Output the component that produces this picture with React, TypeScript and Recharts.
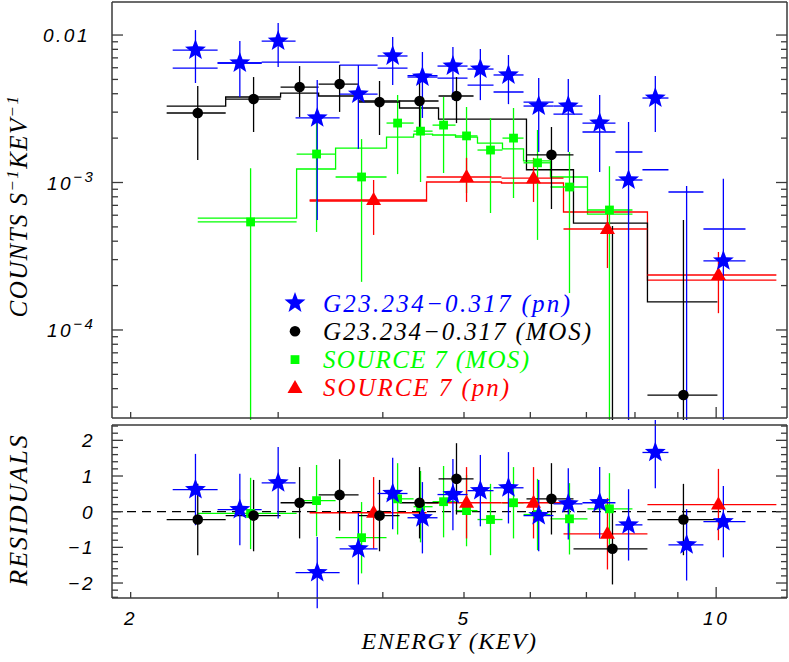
import React from "react";
import {
  ComposedChart,
  Scatter,
  Line,
  XAxis,
  YAxis,
  ErrorBar,
  ReferenceLine,
  Legend,
  Label,
} from "recharts";

// ---- spectra: energy bins in keV, rates in counts s^-1 keV^-1 ----

// G23.234-0.317, pn
const pnName = "G23.234−0.317 (pn)";
const pnE = [2.39, 2.70, 3.00, 3.34, 3.74, 4.11, 4.46, 4.85, 5.23, 5.65, 6.14, 6.66, 7.26, 7.86, 8.46, 9.22, 10.2];
const pnLo = [2.245, 2.54, 2.867, 3.147, 3.552, 3.943, 4.281, 4.649, 5.049, 5.423, 5.889, 6.394, 6.925, 7.582, 8.166, 8.771, 9.656];
const pnHi = [2.54, 2.867, 3.147, 3.552, 3.943, 4.281, 4.649, 5.049, 5.423, 5.889, 6.394, 6.925, 7.582, 8.166, 8.771, 9.656, 10.84];
const pnRate = [7.91e-3, 6.46e-3, 9.1e-3, 2.74e-3, 3.98e-3, 7.21e-3, 5.19e-3, 6.16e-3, 5.88e-3, 5.36e-3, 3.3e-3, 3.3e-3, 2.53e-3, 1.04e-3, 3.74e-3, 1e-5, 2.94e-4];
const pnRateLo = [4.73e-3, 3.8e-3, 6.07e-3, 5.57e-4, 1.69e-3, 4.58e-3, 2.74e-3, 3.62e-3, 3.62e-3, 3.4e-3, 1.61e-3, 1.61e-3, 1.18e-3, 1e-6, 2.2e-3, 1e-6, 1e-6];
const pnRateHi = [1.081e-2, 9.1e-3, 1.206e-2, 4.95e-3, 6.26e-3, 9.69e-3, 7.67e-3, 8.29e-3, 8.04e-3, 7.32e-3, 5.11e-3, 5.03e-3, 3.92e-3, 2.57e-3, 5.27e-3, 9.47e-4, 1.06e-3];
const pnModel = [5.97e-3, 6.46e-3, 6.56e-3, 6.56e-3, 6.26e-3, 5.97e-3, 5.3e-3, 5.11e-3, 4.58e-3, 4.11e-3, 3.51e-3, 2.91e-3, 2.2e-3, 1.61e-3, 1.22e-3, 8.62e-4, 4.84e-4];
const pnResid = [0.62, 0.06, 0.81, -1.71, -1.04, 0.51, -0.17, 0.48, 0.59, 0.67, -0.11, 0.22, 0.25, -0.37, 1.66, -0.93, -0.28];

// G23.234-0.317, MOS
const mosName = "G23.234−0.317 (MOS)";
const mosE = [2.405, 2.804, 3.182, 3.552, 3.964, 4.425, 4.898, 6.359, 7.52, 9.14];
const mosLo = [2.208, 2.597, 3.02, 3.353, 3.742, 4.188, 4.662, 5.937, 6.756, 8.279];
const mosHi = [2.597, 3.02, 3.353, 3.742, 4.188, 4.662, 5.133, 6.756, 8.279, 10.035];
const mosRate = [2.96e-3, 3.68e-3, 4.44e-3, 4.65e-3, 3.51e-3, 3.57e-3, 3.86e-3, 1.54e-3, 1e-5, 3.62e-5];
const mosRateLo = [1.42e-3, 2.2e-3, 2.78e-3, 3.01e-3, 2.1e-3, 2.27e-3, 2.53e-3, 6.61e-4, 1e-6, 1e-6];
const mosRateHi = [4.51e-3, 5.19e-3, 6.16e-3, 6.26e-3, 4.88e-3, 4.73e-3, 5.19e-3, 2.38e-3, 5.07e-4, 5.57e-4];
const mosModel = [3.3e-3, 3.8e-3, 4.04e-3, 3.86e-3, 3.57e-3, 3.2e-3, 2.69e-3, 1.22e-3, 5.31e-4, 1.55e-4];
const mosResid = [-0.22, -0.11, 0.25, 0.47, -0.11, 0.25, 0.92, 0.36, -1.04, -0.22];

// Source 7, MOS
const s7mName = "SOURCE 7 (MOS)";
const s7mE = [2.781, 3.334, 3.773, 4.166, 4.437, 4.727, 5.035, 5.378, 5.729, 6.12, 6.682, 7.458];
const s7mLo = [2.405, 3.156, 3.513, 4.041, 4.353, 4.586, 4.885, 5.189, 5.558, 5.889, 6.342, 7.021];
const s7mHi = [3.156, 3.513, 4.041, 4.353, 4.586, 4.885, 5.189, 5.558, 5.889, 6.342, 7.021, 7.945];
const s7mRate = [5.4e-4, 1.56e-3, 1.09e-3, 2.53e-3, 2.23e-3, 2.45e-3, 2.07e-3, 1.66e-3, 2.0e-3, 1.36e-3, 9.32e-4, 6.51e-4];
const s7mRateLo = [1e-6, 4.62e-4, 2.12e-4, 1.14e-3, 1.008e-3, 1.16e-3, 8.49e-4, 6.21e-4, 7.85e-4, 4.08e-4, 1.78e-4, 1e-6];
const s7mRateHi = [1.25e-3, 2.61e-3, 1.97e-3, 3.92e-3, 3.5e-3, 3.8e-3, 3.25e-3, 2.74e-3, 3.2e-3, 2.27e-3, 1.61e-3, 1.29e-3];
const s7mModel = [5.74e-4, 1.235e-3, 1.71e-3, 2.03e-3, 2.13e-3, 2.1e-3, 2.03e-3, 1.85e-3, 1.69e-3, 1.4e-3, 1.09e-3, 6.11e-4];
const s7mResid = [-0.05, 0.31, -0.73, 0.36, 0.14, 0.28, 0.03, -0.22, 0.25, -0.08, -0.2, 0.08];

// Source 7, pn
const s7pName = "SOURCE 7 (pn)";
const s7pE = [3.9, 5.035, 6.053, 7.417, 10.063];
const s7pLo = [3.271, 4.511, 5.543, 6.573, 8.279];
const s7pHi = [4.511, 5.543, 6.573, 8.279, 11.8];
const s7pRate = [7.61e-4, 1.09e-3, 1.07e-3, 4.84e-4, 2.36e-4];
const s7pRateLo = [4.41e-4, 7.38e-4, 7.38e-4, 2.63e-4, 1.3e-4];
const s7pRateHi = [1.04e-3, 1.47e-3, 1.47e-3, 6.21e-4, 3.38e-4];
const s7pModel = [7.49e-4, 1.008e-3, 9.92e-4, 6.31e-4, 2.18e-4];
const s7pResid = [-0.03, 0.25, 0.25, -0.62, 0.2];

// ---- axes ----
const eDomain = [1.9, 12.15];
const eTicks = [2, 3, 4, 5, 6, 7, 8, 9, 10];
const eMajor = [10];
const eLabels = [2, 5, 10];

const rateDomain = [2.53e-5, 0.01675];
const rateTicks = [
  3e-5, 4e-5, 5e-5, 6e-5, 7e-5, 8e-5, 9e-5,
  1e-4, 2e-4, 3e-4, 4e-4, 5e-4, 6e-4, 7e-4, 8e-4, 9e-4,
  1e-3, 2e-3, 3e-3, 4e-3, 5e-3, 6e-3, 7e-3, 8e-3, 9e-3,
  1e-2,
];
const rateMajor = [1e-4, 1e-3, 1e-2];
const rateLabels = [
  { v: 1e-2, text: "0.01", sup: "" },
  { v: 1e-3, text: "10", sup: "−3" },
  { v: 1e-4, text: "10", sup: "−4" },
];

const residDomain = [-2.42, 2.43];
const residTicks = [
  -2.4, -2.2, -2, -1.8, -1.6, -1.4, -1.2, -1, -0.8, -0.6, -0.4, -0.2, 0,
  0.2, 0.4, 0.6, 0.8, 1, 1.2, 1.4, 1.6, 1.8, 2, 2.2, 2.4,
];
const residMajor = [-2, -1, 0, 1, 2];
const residLabels = [2, 1, 0, -1, -2];

const FRAME = "#3a3a3a";
const NUM_FONT = "'Liberation Sans', Arial, sans-serif";
const TXT_FONT = "'Liberation Serif', 'Times New Roman', serif";

type Kind = "star" | "dot" | "square" | "tri";

// joined: model drawn as a connected histogram; otherwise separate bin segments
const series = [
  { name: pnName, color: "#0000ff", kind: "star" as Kind, joined: false, legendW: 247, E: pnE, lo: pnLo, hi: pnHi, rate: pnRate, rateLo: pnRateLo, rateHi: pnRateHi, model: pnModel, resid: pnResid },
  { name: mosName, color: "#000000", kind: "dot" as Kind, joined: true, legendW: 268, E: mosE, lo: mosLo, hi: mosHi, rate: mosRate, rateLo: mosRateLo, rateHi: mosRateHi, model: mosModel, resid: mosResid },
  { name: s7mName, color: "#00ff00", kind: "square" as Kind, joined: true, legendW: 206, E: s7mE, lo: s7mLo, hi: s7mHi, rate: s7mRate, rateLo: s7mRateLo, rateHi: s7mRateHi, model: s7mModel, resid: s7mResid },
  { name: s7pName, color: "#ff0000", kind: "tri" as Kind, joined: true, legendW: 186, E: s7pE, lo: s7pLo, hi: s7pHi, rate: s7pRate, rateLo: s7pRateLo, rateHi: s7pRateHi, model: s7pModel, resid: s7pResid },
];
type Series = (typeof series)[number];
// drawing order, blue on top
const drawOrder = [series[2], series[3], series[1], series[0]];

const ratePoints = (s: Series) =>
  s.E.map((e, i) => ({
    e,
    v: s.rate[i],
    ex: [e - s.lo[i], s.hi[i] - e],
    ey: [s.rate[i] - s.rateLo[i], s.rateHi[i] - s.rate[i]],
  }));

const modelSteps = (s: Series) => {
  if (!s.joined) {
    const segs: { e: number; m: number | null }[] = [];
    s.lo.forEach((l, i) => {
      segs.push({ e: l, m: s.model[i] }, { e: s.hi[i], m: s.model[i] }, { e: s.hi[i], m: null });
    });
    return segs;
  }
  const pts: { e: number; m: number | null }[] = s.lo.map((l, i) => ({ e: l, m: s.model[i] }));
  pts.push({ e: s.hi[s.hi.length - 1], m: s.model[s.model.length - 1] });
  return pts;
};

const residPoints = (s: Series) =>
  s.E.map((e, i) => ({ e, r: s.resid[i], ex: [e - s.lo[i], s.hi[i] - e], ey: 1 }));

const near = (a: number, b: number) => Math.abs(a - b) <= Math.abs(b) * 1e-6 + 1e-9;

// ---- markers ----
function starPoints(cx: number, cy: number, r: number) {
  const pts: string[] = [];
  for (let k = 0; k < 10; k++) {
    const a = (Math.PI / 5) * k - Math.PI / 2;
    const rr = k % 2 === 0 ? r : r * 0.42;
    pts.push(`${cx + rr * Math.cos(a)},${cy + rr * Math.sin(a)}`);
  }
  return pts.join(" ");
}

function Marker({ kind, cx, cy, color }: { kind: Kind; cx: number; cy: number; color: string }) {
  if (!Number.isFinite(cx) || !Number.isFinite(cy)) return <g />;
  if (kind === "star") return <polygon points={starPoints(cx, cy, 11)} fill={color} />;
  if (kind === "dot") return <circle cx={cx} cy={cy} r={5.3} fill={color} />;
  if (kind === "square") return <rect x={cx - 4.4} y={cy - 4.4} width={8.8} height={8.8} fill={color} />;
  return <polygon points={`${cx},${cy - 8} ${cx + 7.5},${cy + 5} ${cx - 7.5},${cy + 5}`} fill={color} />;
}

// ---- inward tick marks on the frame ----
const tickMark =
  (side: "left" | "right" | "top" | "bottom", major: number[], label?: (p: any) => React.ReactNode) =>
  (p: any) => {
    const v = p.payload.value;
    const len = major.some((m) => near(v, m)) ? 11 : 6;
    const dx = side === "left" ? len : side === "right" ? -len : 0;
    const dy = side === "top" ? len : side === "bottom" ? -len : 0;
    return (
      <g>
        <line x1={p.x} y1={p.y} x2={p.x + dx} y2={p.y + dy} stroke={FRAME} strokeWidth={1.3} />
        {label ? label(p) : null}
      </g>
    );
  };

const numStyle = { fontFamily: NUM_FONT, fontStyle: "italic" as const, fontSize: 19, letterSpacing: 2.5 };
const titleStyle = { fontFamily: TXT_FONT, fontStyle: "italic" as const, fontSize: 25, letterSpacing: 1.4 };

const rateLabel = (p: any) => {
  const l = rateLabels.find((r) => near(p.payload.value, r.v));
  if (!l) return null;
  if (!l.sup)
    return (
      <text x={p.x - 22} y={p.y + 7} textAnchor="end" style={numStyle} fill="#000">
        {l.text}
      </text>
    );
  return (
    <text x={p.x - 65} y={p.y + 7} textAnchor="start" style={numStyle} fill="#000">
      {l.text}
      <tspan dy={-8} fontSize={15}>{l.sup}</tspan>
    </text>
  );
};

const residLabel = (p: any) => {
  const l = residLabels.find((r) => near(p.payload.value, r));
  if (l === undefined) return null;
  return (
    <text x={p.x - 17} y={p.y + 7} textAnchor="end" style={numStyle} fill="#000">
      {l < 0 ? `−${-l}` : `${l}`}
    </text>
  );
};

const energyLabel = (p: any) => {
  if (!eLabels.some((v) => near(p.payload.value, v))) return null;
  return (
    <text x={p.x} y={p.y + 27} textAnchor="middle" style={numStyle} fill="#000">
      {p.payload.value}
    </text>
  );
};

const CountsTitle = (p: any) => {
  const vb = p.viewBox ?? { x: 0, y: 2, width: 112, height: 416 };
  const x = vb.x + 27;
  const y = vb.y + vb.height / 2 - 4;
  return (
    <text transform={`rotate(-90 ${x} ${y})`} x={x} y={y} textAnchor="middle" style={titleStyle} fill="#000">
      COUNTS S<tspan dy={-9} fontSize={17}>−1</tspan>
      <tspan dy={9}>KEV</tspan>
      <tspan dy={-9} fontSize={17}>−1</tspan>
    </text>
  );
};

const ResidTitle = (p: any) => {
  const vb = p.viewBox ?? { x: 0, y: 5, width: 112, height: 173 };
  const x = vb.x + 27;
  const y = vb.y + vb.height / 2 - 2;
  return (
    <text transform={`rotate(-90 ${x} ${y})`} x={x} y={y} textAnchor="middle" style={{ ...titleStyle, fontSize: 26, letterSpacing: 2 }} fill="#000">
      RESIDUALS
    </text>
  );
};

const EnergyTitle = (p: any) => {
  const vb = p.viewBox ?? { x: 112, y: 178, width: 675, height: 63 };
  return (
    <text x={vb.x + vb.width / 2} y={vb.y + 51} textAnchor="middle" style={{ ...titleStyle, fontSize: 24, letterSpacing: 1.5 }} fill="#000">
      ENERGY (KEV)
    </text>
  );
};

const legendOrder = series.map((s) => s.name);
const ROW = 28.3;

const renderLegend = (props: any) => {
  const payload = props.payload && props.payload.length ? props.payload : series.map((s) => ({ value: s.name }));
  const items = [...payload]
    .filter((it: any) => legendOrder.includes(it.value))
    .sort((a: any, b: any) => legendOrder.indexOf(a.value) - legendOrder.indexOf(b.value));
  return (
    <svg width={320} height={ROW * items.length + 4} style={{ display: "block", overflow: "visible" }}>
      {items.map((it: any, i: number) => {
        const s = series[legendOrder.indexOf(it.value)];
        const cy = 14 + i * ROW;
        return (
          <g key={s.name}>
            <Marker kind={s.kind} cx={12} cy={cy} color={s.color} />
            <text
              x={40}
              y={cy + 8.5}
              fill={s.color}
              textLength={s.legendW}
              lengthAdjust="spacing"
              style={{ fontFamily: TXT_FONT, fontStyle: "italic", fontSize: 25 }}
            >
              {it.value}
            </text>
          </g>
        );
      })}
    </svg>
  );
};

const axisLine = { stroke: FRAME, strokeWidth: 1.5 };

export default function App() {
  return (
    <div style={{ position: "relative", width: 789, height: 662, background: "#fff" }}>
      <style>{"body{margin:0}"}</style>

      {/* spectrum panel */}
      <div style={{ position: "absolute", left: 0, top: 0 }}>
        <ComposedChart width={789} height={420} margin={{ top: 1, right: 1, bottom: 1, left: 0 }}>
          <XAxis
            dataKey="e"
            type="number"
            scale="log"
            domain={eDomain}
            allowDataOverflow
            ticks={eTicks}
            interval={0}
            height={1}
            tickSize={0}
            tickMargin={0}
            tickLine={false}
            axisLine={axisLine}
            tick={tickMark("bottom", eMajor)}
          />
          <XAxis
            xAxisId="t"
            orientation="top"
            type="number"
            scale="log"
            domain={eDomain}
            allowDataOverflow
            ticks={eTicks}
            interval={0}
            height={1}
            tickSize={0}
            tickMargin={0}
            tickLine={false}
            axisLine={axisLine}
            tick={tickMark("top", eMajor)}
          />
          <YAxis
            dataKey="v"
            type="number"
            scale="log"
            domain={rateDomain}
            allowDataOverflow
            ticks={rateTicks}
            interval={0}
            width={112}
            tickSize={0}
            tickMargin={0}
            tickLine={false}
            axisLine={axisLine}
            tick={tickMark("left", rateMajor, rateLabel)}
          >
            <Label content={CountsTitle} />
          </YAxis>
          <YAxis
            yAxisId="r"
            orientation="right"
            type="number"
            scale="log"
            domain={rateDomain}
            allowDataOverflow
            ticks={rateTicks}
            interval={0}
            width={1}
            tickSize={0}
            tickMargin={0}
            tickLine={false}
            axisLine={axisLine}
            tick={tickMark("right", rateMajor)}
          />

          {drawOrder.map((s) => (
            <Line
              key={`m-${s.name}`}
              data={modelSteps(s)}
              dataKey="m"
              type={s.joined ? "stepAfter" : "linear"}
              stroke={s.color}
              strokeWidth={1.3}
              dot={false}
              activeDot={false}
              connectNulls={false}
              legendType="none"
              isAnimationActive={false}
            />
          ))}
          {drawOrder.map((s) => (
            <Scatter
              key={`d-${s.name}`}
              name={s.name}
              data={ratePoints(s)}
              fill={s.color}
              isAnimationActive={false}
              shape={(p: any) => <Marker kind={s.kind} cx={p.cx} cy={p.cy} color={s.color} />}
            >
              <ErrorBar dataKey="ex" direction="x" width={0} stroke={s.color} strokeWidth={1.3} />
              <ErrorBar dataKey="ey" direction="y" width={0} stroke={s.color} strokeWidth={1.3} />
            </Scatter>
          ))}
          <Legend
            layout="vertical"
            align="center"
            verticalAlign="middle"
            wrapperStyle={{ left: 283, top: 289, width: 330 }}
            content={renderLegend}
          />
        </ComposedChart>
      </div>

      {/* residual panel */}
      <div style={{ position: "absolute", left: 0, top: 420 }}>
        <ComposedChart width={789} height={242} margin={{ top: 4, right: 1, bottom: 1, left: 0 }}>
          <XAxis
            dataKey="e"
            type="number"
            scale="log"
            domain={eDomain}
            allowDataOverflow
            ticks={eTicks}
            interval={0}
            height={63}
            tickSize={0}
            tickMargin={0}
            tickLine={false}
            axisLine={axisLine}
            tick={tickMark("bottom", eMajor, energyLabel)}
          >
            <Label content={EnergyTitle} />
          </XAxis>
          <XAxis
            xAxisId="t"
            orientation="top"
            type="number"
            scale="log"
            domain={eDomain}
            allowDataOverflow
            ticks={eTicks}
            interval={0}
            height={1}
            tickSize={0}
            tickMargin={0}
            tickLine={false}
            axisLine={axisLine}
            tick={tickMark("top", eMajor)}
          />
          <YAxis
            dataKey="r"
            type="number"
            domain={residDomain}
            allowDataOverflow
            ticks={residTicks}
            interval={0}
            width={112}
            tickSize={0}
            tickMargin={0}
            tickLine={false}
            axisLine={axisLine}
            tick={tickMark("left", residMajor, residLabel)}
          >
            <Label content={ResidTitle} />
          </YAxis>
          <YAxis
            yAxisId="r"
            orientation="right"
            type="number"
            domain={residDomain}
            allowDataOverflow
            ticks={residTicks}
            interval={0}
            width={1}
            tickSize={0}
            tickMargin={0}
            tickLine={false}
            axisLine={axisLine}
            tick={tickMark("right", residMajor)}
          />
          <ReferenceLine y={0} stroke="#000" strokeWidth={1.2} strokeDasharray="9 6" />
          {drawOrder.map((s) => (
            <Scatter
              key={`r-${s.name}`}
              name={s.name}
              data={residPoints(s)}
              fill={s.color}
              isAnimationActive={false}
              shape={(p: any) => <Marker kind={s.kind} cx={p.cx} cy={p.cy} color={s.color} />}
            >
              <ErrorBar dataKey="ex" direction="x" width={0} stroke={s.color} strokeWidth={1.3} />
              <ErrorBar dataKey="ey" direction="y" width={0} stroke={s.color} strokeWidth={1.3} />
            </Scatter>
          ))}
        </ComposedChart>
      </div>
    </div>
  );
}
